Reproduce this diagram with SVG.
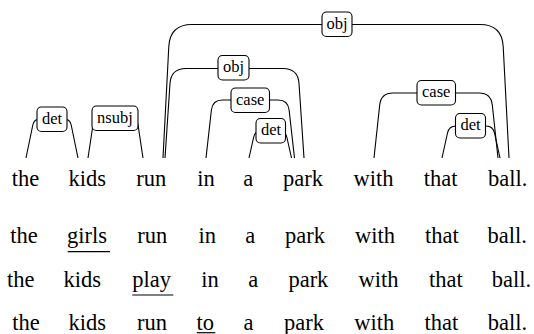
<svg xmlns="http://www.w3.org/2000/svg" width="534" height="334" viewBox="0 0 534 334" font-family="'Liberation Serif', 'Times New Roman', serif">
  <style>
    .w { font-family: 'Liberation Serif', 'Times New Roman', serif; font-size: 22.5px; fill: #000; }
    .lbl { font-family: 'Liberation Serif', 'Times New Roman', serif; font-size: 16.5px; fill: #000; text-anchor: middle; }
    .edge { fill: none; stroke: #000; stroke-width: 1.1; }
    .box { fill: #fff; stroke: #000; stroke-width: 1.1; }
    .ul { stroke: #000; stroke-width: 1.2; }
  </style>
  <rect width="534" height="334" fill="#fff"/>

  <!-- dependency edges: path first, then the label box on top -->
  <g id="edges">
    <g id="e-det-the-kids">
      <path class="edge" d="M26,158 L32.8,125 Q34,119 40,119 L64,119 Q70,119 71.2,125 L78,158"/>
      <rect class="box" x="37" y="107" width="30" height="24.5" rx="4.5"/>
      <text class="lbl" x="52" y="123.5">det</text>
    </g>
    <g id="e-nsubj-kids-run">
      <path class="edge" d="M88,158 L93.1,124 Q94,118 100,118 L131,118 Q137,118 137.9,124 L143,158"/>
      <rect class="box" x="92" y="106" width="46" height="24.5" rx="4.5"/>
      <text class="lbl" x="115" y="122.5">nsubj</text>
    </g>
    <g id="e-obj-run-ball">
      <path class="edge" d="M163,158 L168.8,46.5 Q170,24.5 192,24.5 L480,24.5 Q502,24.5 503.2,46.5 L509,158"/>
      <rect class="box" x="322" y="12" width="30" height="24.5" rx="4.5"/>
      <text class="lbl" x="337" y="28.5">obj</text>
    </g>
    <g id="e-obj-run-park">
      <path class="edge" d="M165,158 L170,83.5 Q171,68.5 186,68.5 L283,68.5 Q298,68.5 299,83.5 L304,158"/>
      <rect class="box" x="218" y="55.5" width="31" height="24.5" rx="4.5"/>
      <text class="lbl" x="233.5" y="72">obj</text>
    </g>
    <g id="e-case-in-park">
      <path class="edge" d="M206,158 L211.4,110 Q212.5,100 222.5,100 L278,100 Q288,100 289.1,110 L294.5,158"/>
      <rect class="box" x="231" y="88" width="38.5" height="24.5" rx="4.5"/>
      <text class="lbl" x="250.2" y="104.5">case</text>
    </g>
    <g id="e-det-a-park">
      <path class="edge" d="M249,158 L253.7,137 Q255,131 261,131 L279.5,131 Q285.5,131 286.8,137 L291.5,158"/>
      <rect class="box" x="256" y="118.5" width="29.5" height="24.5" rx="4.5"/>
      <text class="lbl" x="271" y="135">det</text>
    </g>
    <g id="e-case-with-ball">
      <path class="edge" d="M374,158 L379.7,105 Q381,93 393,93 L479,93 Q491,93 492.3,105 L498,158"/>
      <rect class="box" x="417" y="80.5" width="38.5" height="24.5" rx="4.5"/>
      <text class="lbl" x="436.2" y="97">case</text>
    </g>
    <g id="e-det-that-ball">
      <path class="edge" d="M442,158 L447.5,133 Q449,126 456,126 L486,126 Q493,126 494.5,133 L500,158"/>
      <rect class="box" x="455.5" y="113.5" width="30" height="24.5" rx="4.5"/>
      <text class="lbl" x="470.5" y="130">det</text>
    </g>
  </g>

  <!-- parsed sentence: one node per token -->
  <g id="tokens">
    <g id="w1"><text class="w" x="11.8" y="185.8">the</text></g>
    <g id="w2"><text class="w" x="68.6" y="185.8">kids</text></g>
    <g id="w3"><text class="w" x="136.3" y="185.8">run</text></g>
    <g id="w4"><text class="w" x="197.2" y="185.8">in</text></g>
    <g id="w5"><text class="w" x="243.2" y="185.8">a</text></g>
    <g id="w6"><text class="w" x="283" y="185.8">park</text></g>
    <g id="w7"><text class="w" x="353.6" y="185.8">with</text></g>
    <g id="w8"><text class="w" x="423.7" y="185.8">that</text></g>
    <g id="w9"><text class="w" x="488" y="185.8">ball.</text></g>
  </g>

  <!-- variant sentences with the substituted word underlined -->
  <g id="variant-girls">
    <text class="w" x="10.3" y="243.3">the</text>
    <text class="w" x="67.1" y="243.3">girls</text>
    <text class="w" x="137.3" y="243.3">run</text>
    <text class="w" x="198.5" y="243.3">in</text>
    <text class="w" x="245.2" y="243.3">a</text>
    <text class="w" x="285" y="243.3">park</text>
    <text class="w" x="355" y="243.3">with</text>
    <text class="w" x="425" y="243.3">that</text>
    <text class="w" x="487.4" y="243.3">ball.</text>
    <line class="ul" x1="67.7" y1="251.7" x2="110" y2="251.7"/>
  </g>
  <g id="variant-play">
    <text class="w" x="6.9" y="286.7">the</text>
    <text class="w" x="63.6" y="286.7">kids</text>
    <text class="w" x="132.3" y="286.7">play</text>
    <text class="w" x="201.2" y="286.7">in</text>
    <text class="w" x="248.2" y="286.7">a</text>
    <text class="w" x="288.4" y="286.7">park</text>
    <text class="w" x="358.4" y="286.7">with</text>
    <text class="w" x="429" y="286.7">that</text>
    <text class="w" x="491.7" y="286.7">ball.</text>
    <line class="ul" x1="132.3" y1="295" x2="173.3" y2="295"/>
  </g>
  <g id="variant-to">
    <text class="w" x="12.3" y="330">the</text>
    <text class="w" x="68.6" y="330">kids</text>
    <text class="w" x="136.9" y="330">run</text>
    <text class="w" x="196.4" y="330">to</text>
    <text class="w" x="243.5" y="330">a</text>
    <text class="w" x="284" y="330">park</text>
    <text class="w" x="354.3" y="330">with</text>
    <text class="w" x="424.4" y="330">that</text>
    <text class="w" x="487.7" y="330">ball.</text>
    <line class="ul" x1="196.7" y1="332.7" x2="215.3" y2="332.7"/>
  </g>
</svg>
